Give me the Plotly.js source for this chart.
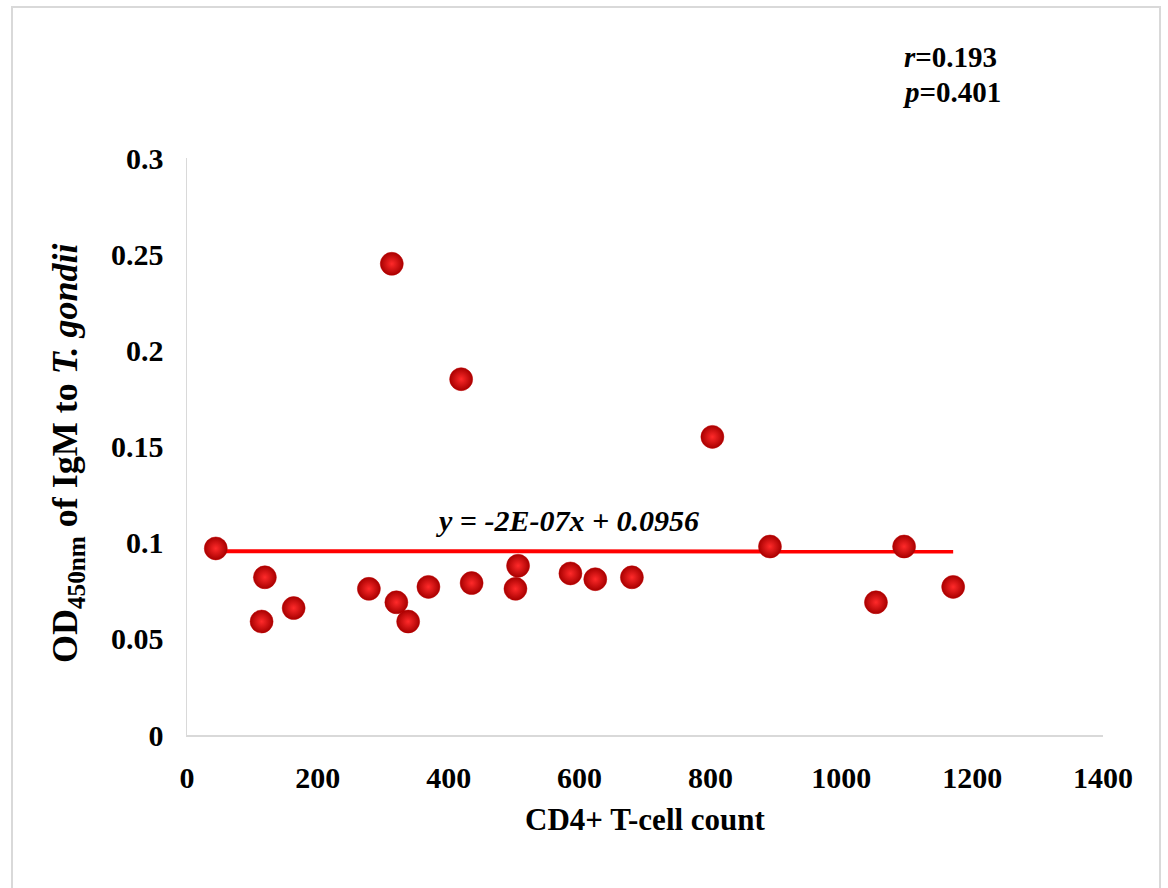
<!DOCTYPE html>
<html>
<head>
<meta charset="utf-8">
<script src="https://cdn.plot.ly/plotly-3.0.1.min.js"></script>
<style>
  html, body { margin: 0; padding: 0; background: #ffffff; }
  #frame { position: absolute; left: 11px; top: 6px; width: 1150px; height: 900px;
           border: 2px solid #d9d9d9; border-bottom: none; box-sizing: border-box; }
  #chart { position: absolute; left: 0; top: 0; width: 1168px; height: 888px; }
</style>
</head>
<body>
<div id="frame"></div>
<div id="chart"></div>
<script>
// CD4+ T-cell count (x) vs OD450nm of IgM to T. gondii (y)
const cd4Count = [44, 119, 114, 163, 278, 320, 338, 313, 369, 419, 435, 506, 502, 586, 624, 680, 803, 891, 1053, 1096, 1171];
const odIgM    = [0.097, 0.082, 0.059, 0.066, 0.076, 0.069, 0.059, 0.245, 0.077, 0.185, 0.079, 0.088, 0.076, 0.084, 0.081, 0.082, 0.155, 0.098, 0.069, 0.098, 0.077];

// Linear trendline as reported on the chart
const trendSlope = -2e-7;
const trendIntercept = 0.0956;
const trendLabel = "y = -2E-07x + 0.0956";
const statR = "0.193";
const statP = "0.401";

const xTicks = [0, 200, 400, 600, 800, 1000, 1200, 1400];
const yTicks = [0, 0.05, 0.1, 0.15, 0.2, 0.25, 0.3];

const xMin = Math.min(...cd4Count), xMax = Math.max(...cd4Count);
const trendX = [xMin, xMax];
const trendY = trendX.map(v => trendSlope * v + trendIntercept);

const FONT = '"Liberation Serif", "Times New Roman", Times, serif';

const traces = [
  {
    x: trendX, y: trendY, type: 'scatter', mode: 'lines',
    line: { color: '#ff0000', width: 4 },
    hoverinfo: 'skip', showlegend: false
  },
  {
    x: cd4Count, y: odIgM, type: 'scatter', mode: 'markers',
    marker: {
      size: 23, color: '#a80000',
      gradient: { type: 'radial', color: '#ff2a2a' },
      line: { width: 0.5, color: '#c00000' }
    },
    showlegend: false
  }
];

const layout = {
  width: 1168, height: 888,
  margin: { l: 187, r: 65, t: 158, b: 153, pad: 0 },
  paper_bgcolor: 'rgba(0,0,0,0)',
  plot_bgcolor: 'rgba(0,0,0,0)',
  font: { family: FONT, color: '#000000' },
  showlegend: false,
  xaxis: {
    range: [0, 1400], tickvals: xTicks, ticktext: xTicks.map(String),
    showgrid: false, zeroline: false,
    showline: true, linecolor: '#d9d9d9', linewidth: 1.5,
    ticks: 'outside', ticklen: 15, tickcolor: 'rgba(0,0,0,0)',
    tickfont: { family: FONT, size: 30, color: '#000000', weight: 'bold' },
    title: { text: '<b>CD4+ T-cell count</b>', font: { family: FONT, size: 31, color: '#000000' }, standoff: 16 }
  },
  yaxis: {
    range: [0, 0.3], tickvals: yTicks, ticktext: yTicks.map(String),
    showgrid: false, zeroline: false,
    showline: true, linecolor: '#d9d9d9', linewidth: 1.5,
    ticks: 'outside', ticklen: 16, tickcolor: 'rgba(0,0,0,0)',
    tickfont: { family: FONT, size: 30, color: '#000000', weight: 'bold' }
  },
  annotations: [
    {
      xref: 'paper', yref: 'paper', x: -0.131, y: 0.487,
      xanchor: 'center', yanchor: 'middle', textangle: -90, showarrow: false,
      text: '<b>OD<sub>450nm</sub> of IgM to <i>T. gondii</i></b>',
      font: { family: FONT, size: 36, color: '#000000' }
    },
    {
      xref: 'x', yref: 'y', x: 582, y: 0.1115,
      xanchor: 'center', yanchor: 'middle', showarrow: false,
      text: '<b><i>' + trendLabel + '</i></b>',
      font: { family: FONT, size: 30, color: '#000000' }
    },
    {
      xref: 'paper', yref: 'paper', x: (902 - 187) / 916, y: (735 - 57) / 577,
      xanchor: 'left', yanchor: 'middle', showarrow: false,
      text: '<b><i>r</i>=' + statR + '</b>',
      font: { family: FONT, size: 29, color: '#000000' }
    },
    {
      xref: 'paper', yref: 'paper', x: (900 - 187) / 916, y: (735 - 92) / 577,
      xanchor: 'left', yanchor: 'middle', showarrow: false,
      text: '<b><i>p</i>=' + statP + '</b>',
      font: { family: FONT, size: 29, color: '#000000' }
    }
  ]
};

Plotly.newPlot('chart', traces, layout, { displayModeBar: false, staticPlot: true });
</script>
</body>
</html>
